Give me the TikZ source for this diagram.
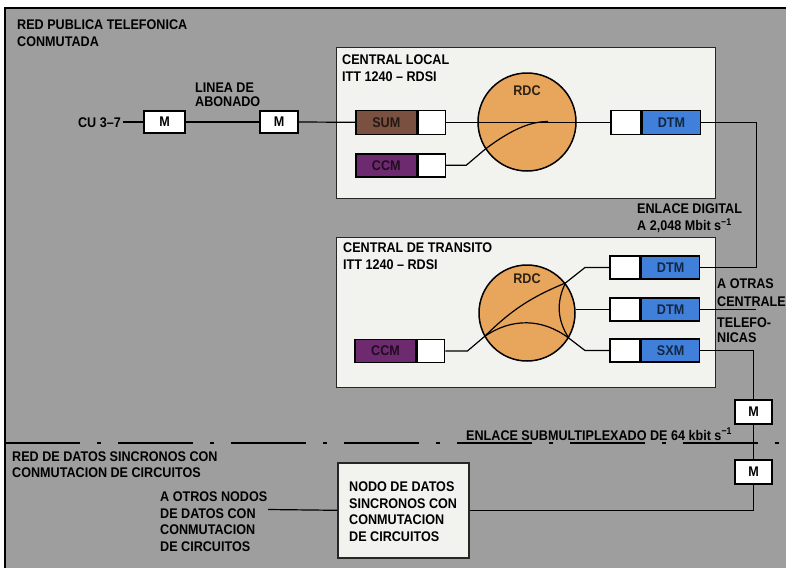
\documentclass[tikz,border=0pt]{standalone}
\usepackage{fontspec}
\usetikzlibrary{calc}
\setmainfont{Liberation Sans}[FakeStretch=0.9]
\definecolor{bggray}{RGB}{158,158,158}
\definecolor{boxfill}{RGB}{242,242,238}
\definecolor{sumc}{RGB}{122,80,64}
\definecolor{ccmc}{RGB}{110,42,110}
\definecolor{dtmc}{RGB}{64,128,218}
\definecolor{rdcc}{RGB}{232,165,92}
\tikzset{
  lbl/.style={inner sep=0pt, font=\fontsize{14}{17}\selectfont\bfseries, align=left},
  central/.style={draw=black!85, line width=1.2pt, fill=boxfill, inner sep=0pt},
  unit/.style={draw=black, line width=1.6pt, minimum height=24pt, inner sep=0pt, font=\fontsize{14}{16}\selectfont\bfseries},
  mbox/.style={draw=black, line width=1.6pt, fill=white, minimum height=22pt, inner sep=0pt, font=\fontsize{14}{16}\selectfont\bfseries},
  rdc/.style={circle, draw=black, line width=1.5pt, fill=rdcc, inner sep=0pt},
  rdclbl/.style={font=\fontsize{14}{16}\selectfont\bfseries, inner sep=0pt, text=rdcc!20!black},
  wire/.style={line width=1.2pt, black},
}
\begin{document}
\begin{tikzpicture}[x=1pt,y=-1pt]
\useasboundingbox (0,0) rectangle (786,568);
\fill[white] (0,0) rectangle (786,568);
\fill[bggray] (5,8) rectangle (786,568);
\draw[line width=1.2pt] (5,568) -- (5,8) -- (786,8);

% central boxes
\node[central, minimum width=379pt, minimum height=151pt, anchor=north west] (cl) at (336,47) {};
\node[central, minimum width=379pt, minimum height=150pt, anchor=north west] (ct) at (336,237) {};
\node[central, line width=1.6pt, minimum width=131pt, minimum height=95pt, anchor=north west] (nodo) at (337,462) {};

% texts
\node[lbl, anchor=north west] (t1) at (17,20) {RED PUBLICA TELEFONICA\\CONMUTADA};
\node[lbl, anchor=north west] (t2) at (342,55) {CENTRAL LOCAL\\ITT 1240 – RDSI};
\node[lbl, anchor=north west, font=\fontsize{14}{14}\selectfont\bfseries] (t3) at (195,83) {LINEA DE\\ABONADO};
\node[lbl, anchor=base east] (cu) at (121,127) {CU 3–7};
\node[lbl, anchor=north west] (t4) at (637,204) {ENLACE DIGITAL\\A 2,048 Mbit s\textsuperscript{−1}};
\node[lbl, anchor=north west] (t5) at (343,243) {CENTRAL DE TRANSITO\\ITT 1240 – RDSI};
\node[lbl, anchor=base west] (o1) at (717,288) {A OTRAS};
\node[lbl, anchor=base west] (o2) at (717,306) {CENTRALES};
\node[lbl, anchor=base west] (o3) at (717,327) {TELEFO-};
\node[lbl, anchor=base west] (o4) at (717,342) {NICAS};
\node[lbl, anchor=base west] (t6) at (466,440) {ENLACE SUBMULTIPLEXADO DE 64 kbit s\textsuperscript{−1}};
\node[lbl, anchor=north west, font=\fontsize{14}{16}\selectfont\bfseries] (t7) at (12,452) {RED DE DATOS SINCRONOS CON\\CONMUTACION DE CIRCUITOS};
\node[lbl, anchor=north west, font=\fontsize{14}{16.5}\selectfont\bfseries] (t8) at (349,482) {NODO DE DATOS\\SINCRONOS CON\\CONMUTACION\\DE CIRCUITOS};
\node[lbl, anchor=north west, font=\fontsize{14}{16.5}\selectfont\bfseries] (t9) at (160,492) {A OTROS NODOS\\DE DATOS CON\\CONMUTACION\\DE CIRCUITOS};

% M boxes
\node[mbox, minimum width=41pt] (m1) at (164.5,122) {M};
\node[mbox, minimum width=38pt] (m2) at (279,122) {M};
\node[mbox, minimum width=37pt, minimum height=24pt] (m3) at (753.5,412) {M};
\node[mbox, minimum width=37pt, minimum height=24pt] (m4) at (753.5,472) {M};

% local central units
\node[unit, fill=sumc, text=sumc!30!black, minimum width=61pt, anchor=north west] (sum) at (355,109.5) {SUM};
\node[unit, fill=white, minimum width=27pt, anchor=west] (sumw) at (sum.east) {};
\node[unit, fill=ccmc, text=ccmc!30!black, minimum width=61pt, minimum height=23pt, anchor=north west] (ccm) at (355,153) {CCM};
\node[unit, fill=white, minimum width=27pt, minimum height=23pt, anchor=west] (ccmw) at (ccm.east) {};
\node[unit, fill=white, minimum width=30pt, anchor=north west] (ldtmw) at (610,109.5) {};
\node[unit, fill=dtmc, text=dtmc!30!black, minimum width=58pt, anchor=west] (ldtm) at (ldtmw.east) {DTM};
\node[rdc, minimum size=98pt] (rdc1) at (527,122) {};
\node[rdclbl] (r1) at (527,91) {RDC};

% transit central units
\node[unit, fill=ccmc, text=ccmc!30!black, minimum width=61pt, minimum height=23pt] (tccm) at (385.5,351) {CCM};
\node[unit, fill=white, minimum width=27pt, minimum height=23pt, anchor=west] (tccmw) at (tccm.east) {};
\node[unit, fill=white, minimum width=30pt, minimum height=23pt] (tdtm1w) at (625,267.5) {};
\node[unit, fill=dtmc, text=dtmc!30!black, minimum width=58pt, minimum height=23pt, anchor=west] (tdtm1) at (tdtm1w.east) {DTM};
\node[unit, fill=white, minimum width=30pt, minimum height=23pt] (tdtm2w) at (625,309.5) {};
\node[unit, fill=dtmc, text=dtmc!30!black, minimum width=58pt, minimum height=23pt, anchor=west] (tdtm2) at (tdtm2w.east) {DTM};
\node[unit, fill=white, minimum width=30pt, minimum height=23pt] (tsxmw) at (625,350.5) {};
\node[unit, fill=dtmc, text=dtmc!30!black, minimum width=58pt, minimum height=23pt, anchor=west] (tsxm) at (tsxmw.east) {SXM};
\node[rdc, minimum size=96pt] (rdc2) at (527,313) {};
\node[rdclbl] (r2) at (527,279) {RDC};

% wires: subscriber line
\coordinate (cuend) at (123,122);
\draw[wire] (cuend) -- (m1.west);
\draw[wire] (m1.east) -- (m2.west);
\draw[wire] (m2.east) -- (sum.west);
% local central
\draw[wire] (sumw.east) -- (ldtmw.west);
\draw[wire] (ccmw.east) -- ++(20,0) -- (rdc1.213) .. controls (508,132) and (528,121.5) .. (548,121.5);
% local to transit
\draw[wire] (ldtm.east) -- ++(55,0) |- (tdtm1.east);
% transit central
\coordinate (p1) at (rdc2.209);
\coordinate (p2) at (rdc2.38);
\coordinate (p3) at (rdc2.-31);
\draw[wire] (tccmw.east) -- ++(22,0) -- (p1);
\draw[wire] (p1) to[bend left=11] (p2);
\draw[wire] (p2) -- (585,267.5) -- (tdtm1w.west);
\draw[wire] (p1) to[bend left=36] (p3);
\draw[wire] (p2) to[bend right=29] (p3);
\draw[wire] (p3) -- (585,350.5) -- (tsxmw.west);
\draw[wire] (rdc2.east |- tdtm2w.west) -- (tdtm2w.west);
\coordinate (oe) at ($(tdtm2.east)+(56,0)$);
\draw[wire] (tdtm2.east) -- (oe);
\draw[wire] (tsxm.east) -| (m3.north);
\draw[wire] (m3.south) -- (m4.north);
\draw[wire] (m4.south) |- (nodo.east);
\coordinate (aon) at (268,509.5);
\draw[wire] (aon) -- (nodo.west);

% separator
\draw[line width=1.1pt, dash pattern=on 75pt off 17pt on 4pt off 17pt] (5,443) -- (786,443);
\end{tikzpicture}
\end{document}
